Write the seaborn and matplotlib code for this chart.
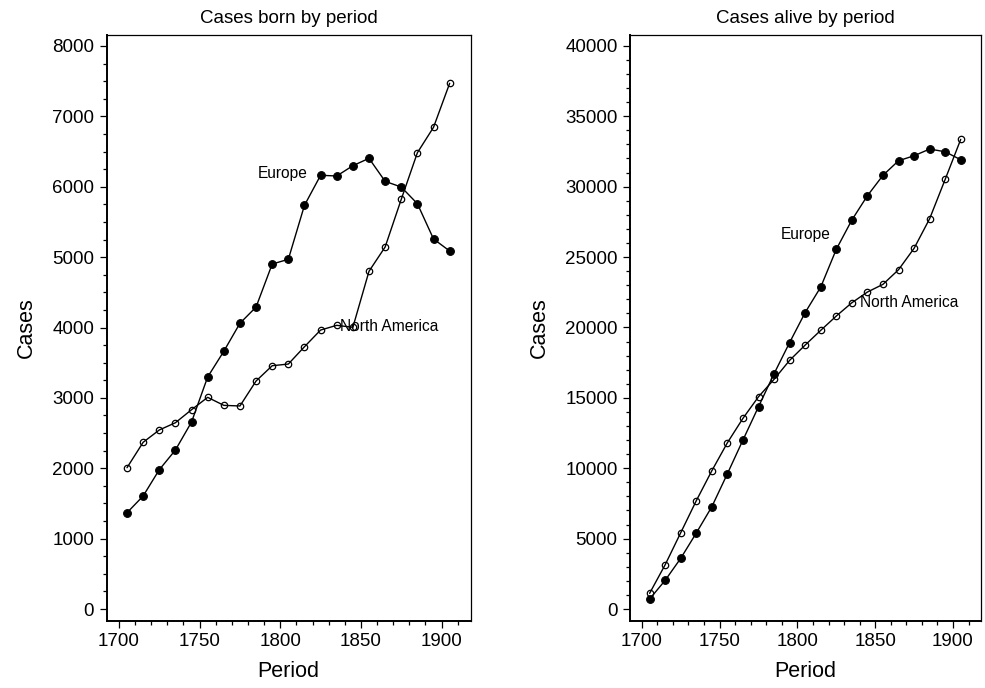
import matplotlib
matplotlib.use('Agg')
import matplotlib.pyplot as plt
import seaborn as sns
from matplotlib.ticker import MultipleLocator

PERIODS = [1705, 1715, 1725, 1735, 1745, 1755, 1765, 1775, 1785, 1795, 1805,
           1815, 1825, 1835, 1845, 1855, 1865, 1875, 1885, 1895, 1905]

# Cases born by period
BORN_EUROPE = [1368, 1606, 1979, 2259, 2657, 3297, 3662, 4060, 4291, 4902, 4969,
               5736, 6163, 6153, 6299, 6404, 6077, 5996, 5759, 5258, 5087]
BORN_NAMERICA = [2008, 2369, 2544, 2647, 2832, 3008, 2894, 2885, 3240, 3457, 3481,
                 3727, 3964, 4031, 4003, 4799, 5144, 5822, 6484, 6845, 7470]

# Cases alive by period
ALIVE_EUROPE = [710, 2038, 3601, 5398, 7266, 9609, 12003, 14368, 16712, 18928, 21058,
                22869, 25547, 27628, 29354, 30803, 31840, 32195, 32670, 32479, 31911]
ALIVE_NAMERICA = [1115, 3146, 5419, 7692, 9822, 11811, 13544, 15078, 16314, 17663, 18750,
                  19794, 20810, 21754, 22514, 23061, 24098, 25618, 27720, 30518, 33359]

sns.set_style('ticks')
plt.rcParams['font.family'] = ['Liberation Sans', 'DejaVu Sans']
for key in ['text.color', 'axes.labelcolor', 'xtick.color', 'ytick.color', 'axes.edgecolor']:
    plt.rcParams[key] = 'black'


def draw_panel(ax, europe, namerica, title, ylim, major, minor, eu_xy, na_xy):
    sns.lineplot(x=PERIODS, y=europe, ax=ax, color='black', lw=1.0,
                 marker='o', markersize=5.6, markerfacecolor='black',
                 markeredgecolor='black')
    sns.lineplot(x=PERIODS, y=namerica, ax=ax, color='black', lw=1.0,
                 marker='o', markersize=4.6, markerfacecolor='none',
                 markeredgecolor='black', markeredgewidth=0.9)
    ax.text(eu_xy[0], eu_xy[1], 'Europe', ha='right', va='center', fontsize=11.2)
    ax.text(na_xy[0], na_xy[1], 'North America', ha='left', va='center', fontsize=11.2)

    ax.set_xlim(1692.4, 1918)
    ax.set_ylim(*ylim)
    ax.xaxis.set_major_locator(MultipleLocator(50))
    ax.xaxis.set_minor_locator(MultipleLocator(10))
    ax.yaxis.set_major_locator(MultipleLocator(major))
    ax.yaxis.set_minor_locator(MultipleLocator(minor))
    ax.tick_params(which='major', direction='out', length=5, width=0.9,
                   labelsize=13.5, pad=4, color='black', labelcolor='black')
    ax.tick_params(which='minor', direction='out', length=2.6, width=0.9, color='black')

    for side in ['top', 'right']:
        ax.spines[side].set_linewidth(0.9)
    for side in ['bottom', 'left']:
        ax.spines[side].set_linewidth(1.4)
    for sp in ax.spines.values():
        sp.set_color('black')
        sp.set_visible(True)

    ax.set_title(title, fontsize=13.5, pad=9, color='black')
    ax.set_xlabel('Period', fontsize=15.5, labelpad=8)
    ax.set_ylabel('Cases', fontsize=15.5, labelpad=11)


fig = plt.figure(figsize=(9.85, 6.88), dpi=100)
ax1 = fig.add_axes([0.1083, 0.0978, 0.3695, 0.8513])
ax2 = fig.add_axes([0.6396, 0.0978, 0.3563, 0.8513])

draw_panel(ax1, BORN_EUROPE, BORN_NAMERICA, 'Cases born by period',
           (-166, 8156), 1000, 250, (1816.7, 6192), (1837, 4011))
draw_panel(ax2, ALIVE_EUROPE, ALIVE_NAMERICA, 'Cases alive by period',
           (-830, 40770), 5000, 1000, (1821.6, 26634), (1840, 21804))

fig.savefig('out.png', dpi=100)
